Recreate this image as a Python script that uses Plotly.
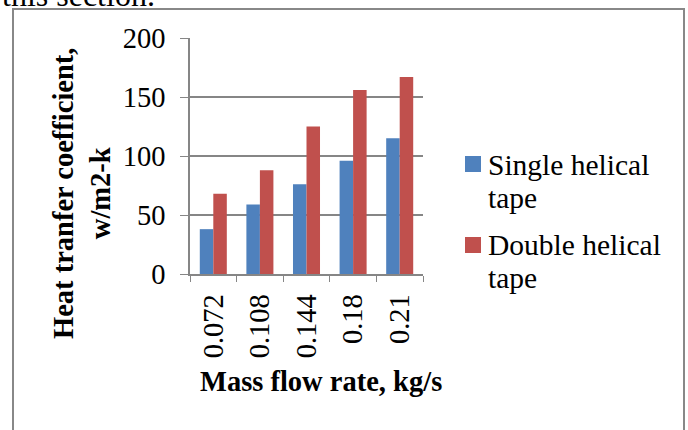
import plotly.graph_objects as go

categories = ["0.072", "0.108", "0.144", "0.18", "0.21"]
single_helical = [38, 59, 76, 96, 115]
double_helical = [68, 88, 125, 156, 167]
series_names = ["Single helical tape", "Double helical tape"]
series_colors = ["#4F81BD", "#C0504D"]
legend_lines = [["Single helical", "tape"], ["Double helical", "tape"]]
y_ticks = [0, 50, 100, 150, 200]

W, H = 688, 430
FONT = "Liberation Serif"
FS = 28.5
LFS = 29.5
GRID = "#868686"

def px(x):
    return x / W

def py(y):
    return 1 - y / H

fig = go.Figure()
for name, vals, col in zip(series_names, [single_helical, double_helical], series_colors):
    fig.add_trace(go.Bar(x=categories, y=vals, name=name, showlegend=False,
                         marker=dict(color=col, line=dict(width=0))))

fig.update_layout(
    width=W, height=H,
    margin=dict(l=0, r=0, t=0, b=0, pad=0, autoexpand=False),
    paper_bgcolor="white", plot_bgcolor="white",
    font=dict(family=FONT, size=FS, color="black"),
    barmode="group", bargap=0.42, bargroupgap=0,
    xaxis=dict(domain=[px(190), px(423)], type="category", automargin=False,
               showline=True, linecolor=GRID, linewidth=1.5,
               ticks="outside", tickson="boundaries", ticklen=6, tickcolor=GRID,
               tickangle=-90, ticklabelstandoff=7,
               tickfont=dict(family=FONT, size=FS, color="black"), showgrid=False),
    yaxis=dict(domain=[py(274), py(38)], range=[0, 200], tickvals=y_ticks,
               automargin=False,
               showline=True, linecolor=GRID, linewidth=1.5,
               ticks="outside", ticklen=8, tickcolor=GRID, ticklabelstandoff=9,
               showgrid=True, gridcolor=GRID, gridwidth=1.5, zeroline=False,
               tickfont=dict(family=FONT, size=FS, color="black")),
    showlegend=False,
)

# legend drawn as squares + text lines
sq_top = [156, 237]
line_centers = [[165, 198], [245, 278]]
for i, col in enumerate(series_colors):
    fig.add_shape(type="rect", xref="paper", yref="paper",
                  x0=px(465), x1=px(481), y0=py(sq_top[i] + 16), y1=py(sq_top[i]),
                  line=dict(width=0), fillcolor=col)
    for txt, yc in zip(legend_lines[i], line_centers[i]):
        fig.add_annotation(text=txt, xref="paper", yref="paper",
                           x=px(486), y=py(yc), xanchor="left", yanchor="middle",
                           showarrow=False, font=dict(family=FONT, size=LFS))

fig.add_annotation(text="<b>Heat tranfer coefficient,<br>w/m2-k</b>",
                   xref="paper", yref="paper", x=px(82), y=py(194),
                   xanchor="center", yanchor="middle", textangle=-90,
                   showarrow=False, font=dict(family=FONT, size=FS))
fig.add_annotation(text="<b>Mass flow rate, kg/s</b>",
                   xref="paper", yref="paper", x=px(321), y=py(381),
                   xanchor="center", yanchor="middle",
                   showarrow=False, font=dict(family=FONT, size=FS))
fig.add_annotation(text="this section.",
                   xref="paper", yref="paper", x=0, y=1,
                   xanchor="left", yanchor="bottom", yshift=-15,
                   showarrow=False, font=dict(family=FONT, size=32))

fig.add_shape(type="rect", xref="paper", yref="paper",
              x0=px(13), x1=px(684), y0=-0.2, y1=py(9),
              line=dict(color="#888888", width=2), fillcolor="rgba(0,0,0,0)",
              layer="below")

fig.write_html("out.html")
